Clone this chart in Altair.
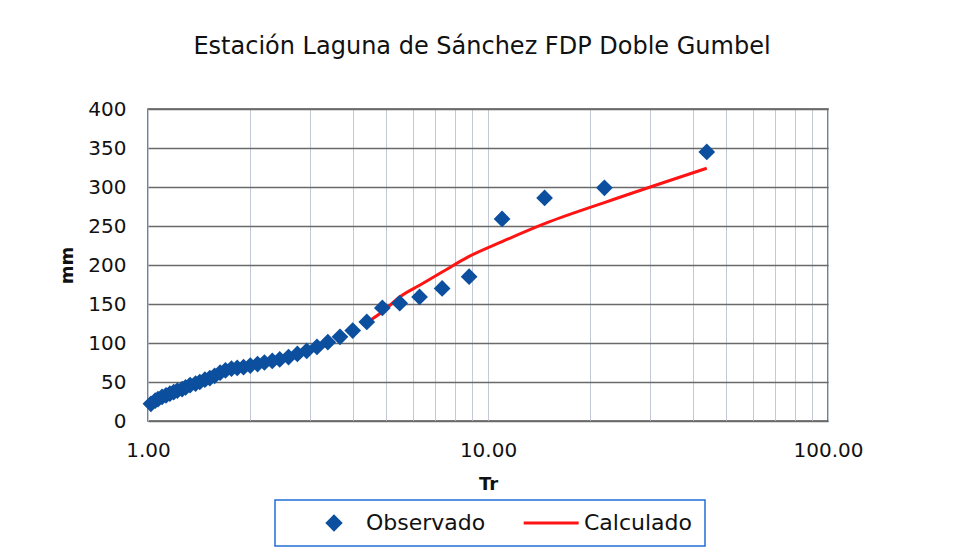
import altair as alt
import pandas as pd

tr_obs = [44.00, 22.00, 14.67, 11.00, 8.80, 7.33, 6.29, 5.50, 4.89, 4.40,
          4.00, 3.67, 3.38, 3.14, 2.93, 2.75, 2.59, 2.44, 2.32, 2.20,
          2.10, 2.00, 1.91, 1.83, 1.76, 1.69, 1.63, 1.57, 1.52, 1.47,
          1.42, 1.38, 1.33, 1.29, 1.26, 1.22, 1.19, 1.16, 1.13, 1.10,
          1.07, 1.05, 1.02]
mm_obs = [345, 299, 286, 259, 185, 170, 159, 151, 145, 127,
          116, 108, 101, 95, 90, 86, 82, 79, 77, 75,
          73, 71, 69, 68, 67, 65, 62, 58, 55, 53,
          50, 48, 46, 43, 41, 39, 37, 35, 33, 31,
          28, 26, 22]

# Calculated (Doble Gumbel)
tr_calc = [4.40, 4.89, 5.50, 6.29, 7.33, 8.80, 11.00, 14.67, 22.00, 44.00]
mm_calc = [126, 140, 159, 174, 191, 211, 230, 253, 280, 324]

series = ["Observado", "Calculado"]
colors = ["#0b4f9e", "#ff1414"]
x_grid = [1, 2, 3, 4, 5, 6, 7, 8, 9, 10, 20, 30, 40, 50, 60, 70, 80, 90, 100]
y_ticks = [0, 50, 100, 150, 200, 250, 300, 350, 400]

obs = pd.DataFrame({"Tr": tr_obs, "mm": mm_obs, "serie": "Observado"})
calc = pd.DataFrame({"Tr": tr_calc, "mm": mm_calc, "serie": "Calculado"})

FONT = "DejaVu Sans"
LINE_SYMBOL = "M-3.27,-0.17H3.08V0.17H-3.27Z"

legend = alt.Legend(title=None, orient="none", legendX=127, legendY=391,
                    direction="horizontal")

x_enc = alt.X("Tr:Q", scale=alt.Scale(type="log", domain=[1, 100]),
              axis=alt.Axis(values=x_grid, title="Tr", labelFlush=False,
                            labelExpr="(datum.value == 1 || datum.value == 10 || datum.value == 100) ? format(datum.value, '.2f') : ''"))
y_enc = alt.Y("mm:Q", scale=alt.Scale(domain=[0, 400]),
              axis=alt.Axis(values=y_ticks, title="mm"))

color_enc = alt.Color("serie:N", scale=alt.Scale(domain=series, range=colors), legend=legend)
shape_enc = alt.Shape("serie:N", scale=alt.Scale(domain=series, range=["diamond", LINE_SYMBOL]),
                      legend=legend)

line = alt.Chart(calc).mark_line(strokeWidth=3, interpolate="monotone").encode(
    x=x_enc, y=y_enc, color=color_enc)

points = alt.Chart(obs).mark_point(filled=True, size=280, opacity=1).encode(
    x=x_enc, y=y_enc, color=color_enc, shape=shape_enc)

chart = alt.layer(line, points).properties(
    width=680, height=312,
    title=alt.TitleParams("Estación Laguna de Sánchez FDP Doble Gumbel",
                          fontSize=24, font=FONT, fontWeight="normal",
                          color="#111111", anchor="middle", offset=40, dx=-6),
    autosize=alt.AutoSizeParams(type="none"),
    padding={"left": 140, "top": 101, "right": 125, "bottom": 129},
).configure_view(
    stroke="#555555", strokeWidth=1.5
).configure_axis(
    labelFont=FONT, titleFont=FONT, labelFontSize=20, titleFontSize=18,
    labelColor="#111111", titleColor="#111111", titleFontWeight="bold",
    ticks=False, domain=False
).configure_axisX(
    grid=True, gridColor="#c3cad6", gridWidth=1, labelPadding=19, titlePadding=15
).configure_axisY(
    grid=True, gridColor="#6a6a6a", gridWidth=1.5, labelPadding=22, titlePadding=11
).configure_legend(
    labelFont=FONT, labelFontSize=22, labelColor="#111111",
    strokeColor="#1f6fd6", strokeWidth=1.5, padding=12,
    columnPadding=19, symbolSize=300, symbolOffset=36, labelOffset=21,
    symbolStrokeWidth=0
)

chart.save("out.html", embed_options={"renderer": "svg", "actions": False})
